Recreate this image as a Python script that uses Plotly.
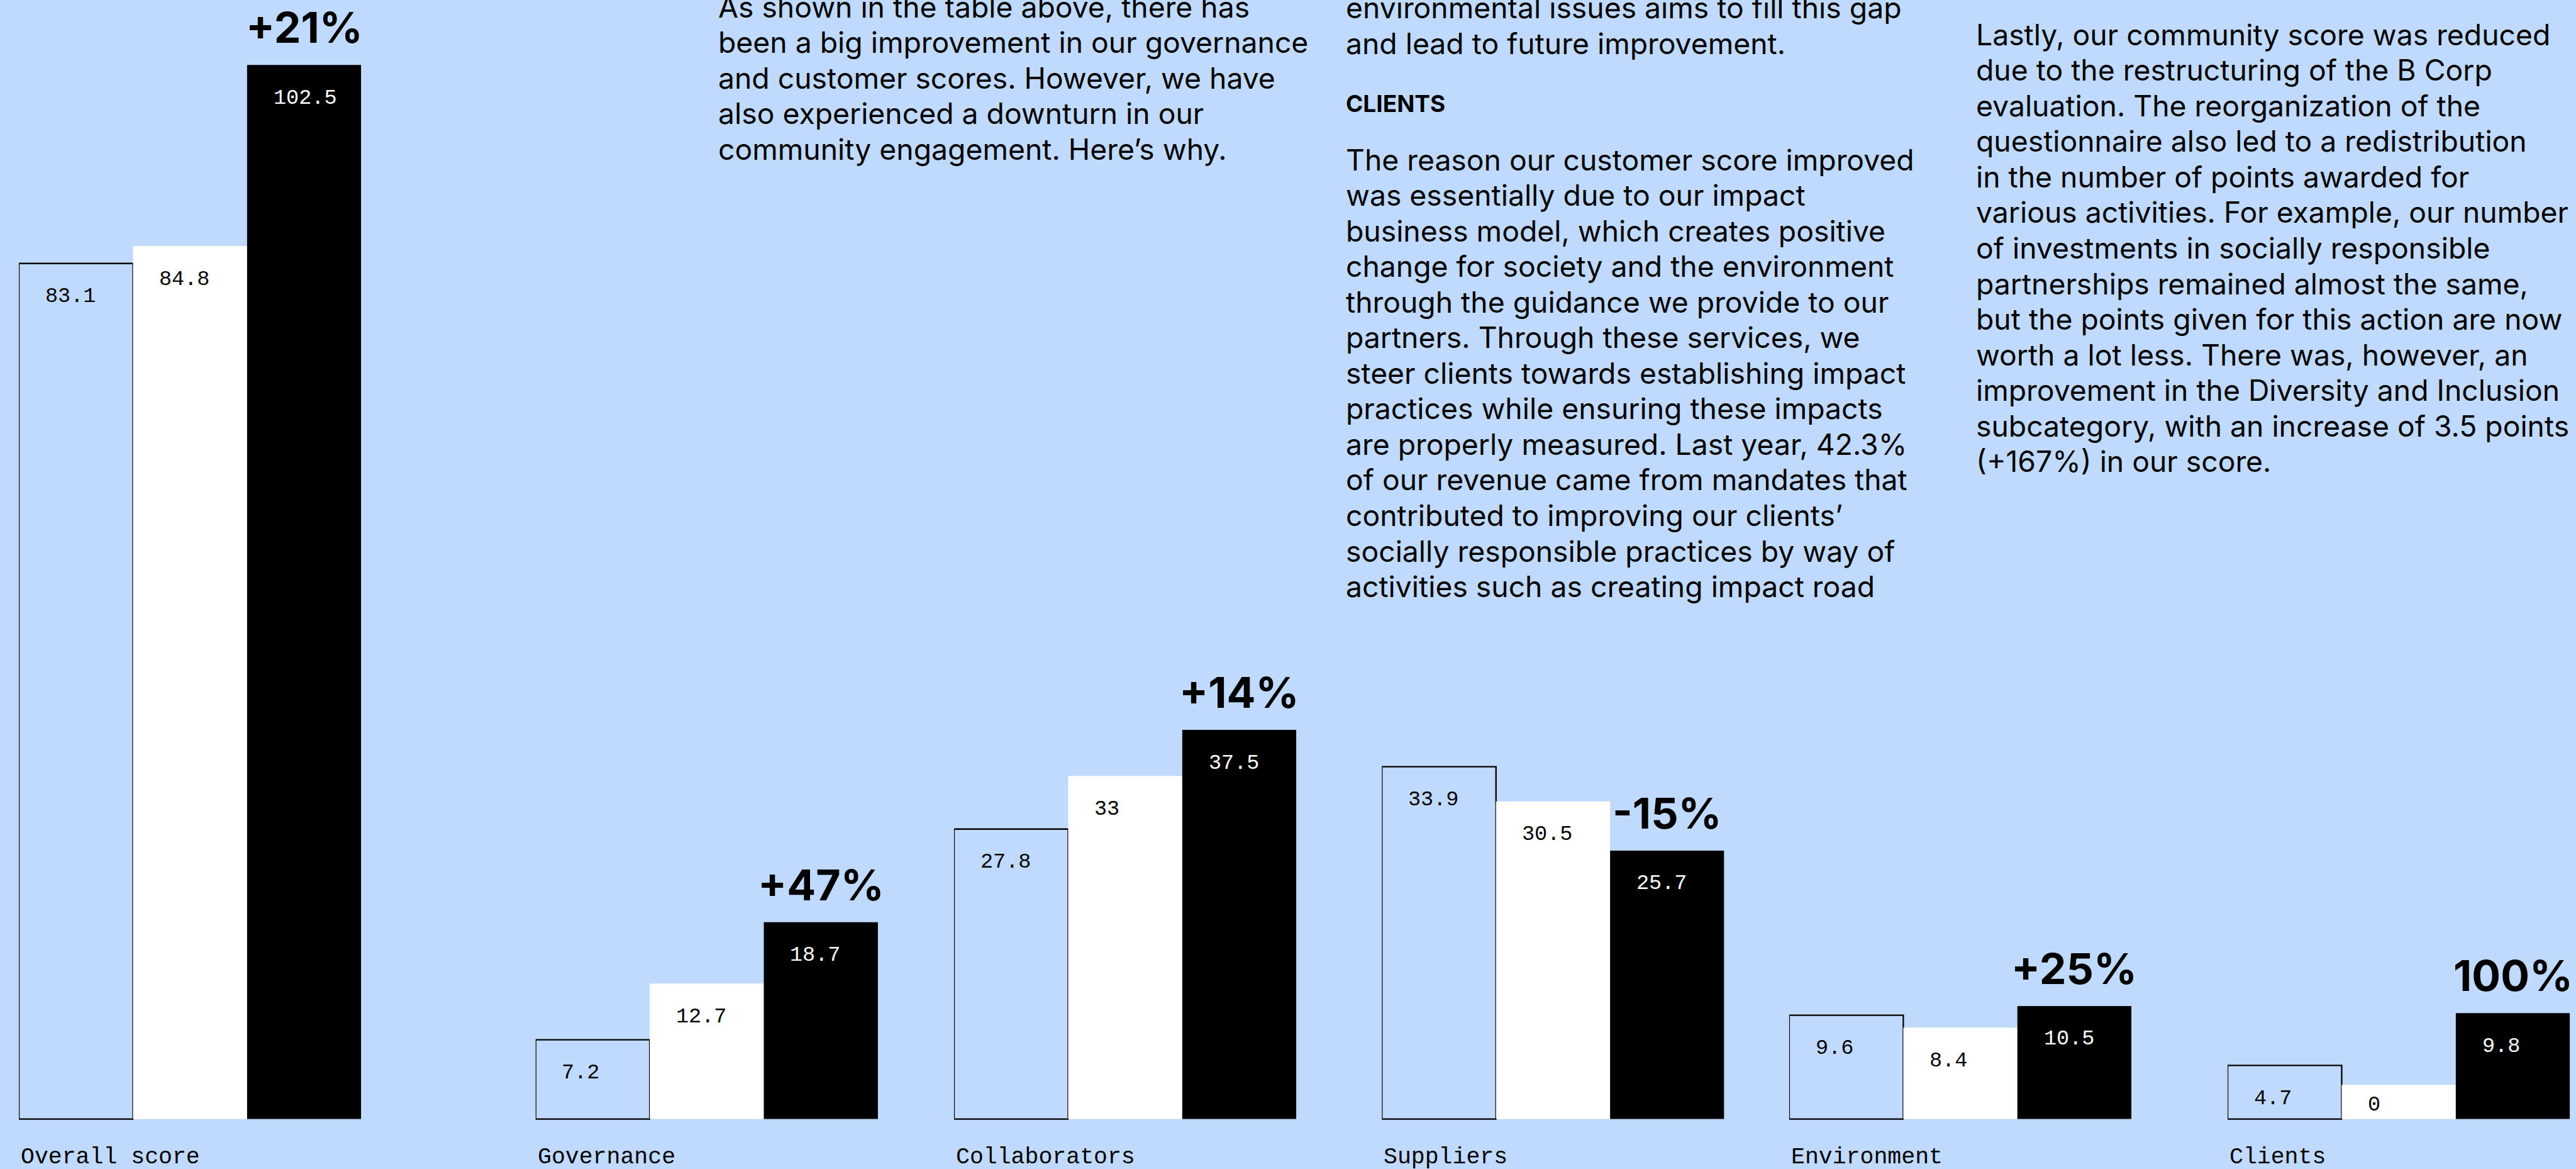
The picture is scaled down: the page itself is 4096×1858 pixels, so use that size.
import plotly.graph_objects as go

# ---------------- data ----------------
categories = ["Overall score", "Governance", "Collaborators", "Suppliers", "Environment", "Clients"]
score_first = [83.1, 7.2, 27.8, 33.9, 9.6, 4.7]      # outlined bars
score_second = [84.8, 12.7, 33, 30.5, 8.4, 0]        # white bars
score_latest = [102.5, 18.7, 37.5, 25.7, 10.5, 9.8]  # black bars
change_labels = ["+21%", "+47%", "+14%", "-15%", "+25%", "100%"]

col1_lines = [
    "As shown in the table above, there has",
    "been a big improvement in our governance",
    "and customer scores. However, we have",
    "also experienced a downturn in our",
    "community engagement. Here\u2019s why.",
]
col2_top_lines = [
    "environmental issues aims to fill this gap",
    "and lead to future improvement.",
]
col2_heading = "CLIENTS"
col2_lines = [
    "The reason our customer score improved",
    "was essentially due to our impact",
    "business model, which creates positive",
    "change for society and the environment",
    "through the guidance we provide to our",
    "partners. Through these services, we",
    "steer clients towards establishing impact",
    "practices while ensuring these impacts",
    "are properly measured. Last year, 42.3%",
    "of our revenue came from mandates that",
    "contributed to improving our clients\u2019",
    "socially responsible practices by way of",
    "activities such as creating impact road",
]
col3_lines = [
    "Lastly, our community score was reduced",
    "due to the restructuring of the B Corp",
    "evaluation. The reorganization of the",
    "questionnaire also led to a redistribution",
    "in the number of points awarded for",
    "various activities. For example, our number",
    "of investments in socially responsible",
    "partnerships remained almost the same,",
    "but the points given for this action are now",
    "worth a lot less. There was, however, an",
    "improvement in the Diversity and Inclusion",
    "subcategory, with an increase of 3.5 points",
    "(+167%) in our score.",
]

# ---------------- layout / style ----------------
W, H = 4096, 1858
S = W / 4636.0
BG = "#C0DAFE"
MONO = "Liberation Mono"
SANS = "Inter"

group_left_ref = [34, 964, 1717, 2487, 3220, 4009]
group_width_ref = 616

px_per_unit = 18.4 * S
zero_from_top = 2003 * S
y_max = zero_from_top / px_per_unit
y_min = -(H - zero_from_top) / px_per_unit
BAR_BASE = -10 / 18.4          # bars extend slightly below the zero line
MIN_VISIBLE = 2.8              # zero values still show a stub
LABEL_FLOOR = 4.05             # value labels never sit lower than this

series = [
    dict(name="First assessment", values=score_first, fill=BG, lc="black", lw=2.3, tc="black"),
    dict(name="Second assessment", values=score_second, fill="white", lc="white", lw=0, tc="black"),
    dict(name="Latest assessment", values=score_latest, fill="black", lc="black", lw=0, tc="white"),
]

fig = go.Figure()
annotations = []
layout_axes = {}

val_fs = 33.5
cat_fs = 36.5
pct_fs = 68
par_fs = 46.3
head_fs = 37

for i, cat in enumerate(categories):
    sfx = "" if i == 0 else str(i + 1)
    xname, yname = "x" + sfx, "y" + sfx
    d0 = group_left_ref[i] * S / W
    d1 = (group_left_ref[i] + group_width_ref) * S / W
    layout_axes["xaxis" + sfx] = dict(domain=[d0, d1], range=[-0.5, 2.5], visible=False,
                                      fixedrange=True, anchor=yname)
    layout_axes["yaxis" + sfx] = dict(domain=[0, 1], range=[y_min, y_max], visible=False,
                                      fixedrange=True, anchor=xname)
    for s, st in enumerate(series):
        v = st["values"][i]
        shown = max(v, MIN_VISIBLE)
        fig.add_trace(go.Bar(
            x=[s], y=[shown - BAR_BASE], base=BAR_BASE, width=1,
            marker=dict(color=st["fill"], line=dict(color=st["lc"], width=st["lw"])),
            name=st["name"], showlegend=False, hoverinfo="skip",
            xaxis=xname, yaxis=yname,
        ))
        annotations.append(dict(
            x=s - 0.5, y=max(shown, LABEL_FLOOR), xref=xname, yref=yname,
            text=f"{v:g}", showarrow=False, xanchor="left", yanchor="middle",
            xshift=45 * S, yshift=-(69.5 * S - 0.267 * val_fs),
            font=dict(family=MONO, size=val_fs, color=st["tc"]),
        ))
    # change label over the latest bar
    annotations.append(dict(
        x=2, y=score_latest[i], xref=xname, yref=yname, text=change_labels[i],
        showarrow=False, xanchor="center", yanchor="middle",
        yshift=40 * S + 0.363 * pct_fs,
        font=dict(family=SANS, size=pct_fs, color="black", weight=700),
    ))
    # category label
    annotations.append(dict(
        x=0, y=1 - (2093 * S - 0.267 * cat_fs) / H, xref=xname + " domain", yref="paper",
        text=cat, showarrow=False, xanchor="left", yanchor="middle", xshift=1,
        font=dict(family=MONO, size=cat_fs, color="black"),
    ))


def add_lines(lines, x_ref, first_base_ref, step_ref=64, fs=par_fs, weight=400):
    for k, line in enumerate(lines):
        base_px = (first_base_ref + k * step_ref) * S
        annotations.append(dict(
            x=x_ref * S / W, y=1 - (base_px - 0.363 * fs) / H, xref="paper", yref="paper",
            text=line, showarrow=False, xanchor="left", yanchor="middle",
            font=dict(family=SANS, size=fs, color="black", weight=weight),
        ))


add_lines(col1_lines, 1290, 31)
add_lines(col2_top_lines, 2420, 33)
add_lines([col2_heading], 2420, 201, fs=head_fs, weight=700)
add_lines(col2_lines, 2420, 306)
add_lines(col3_lines, 3554, 81)

fig.update_layout(
    width=W, height=H, margin=dict(l=0, r=0, t=0, b=0),
    paper_bgcolor=BG, plot_bgcolor=BG, barmode="overlay",
    showlegend=False, annotations=annotations, **layout_axes,
)

fig.write_html(
    "out.html",
    config={"displayModeBar": False},
    post_script="document.body.style.margin='0';document.body.style.overflow='hidden';"
                "document.documentElement.style.background='" + BG + "';",
)
